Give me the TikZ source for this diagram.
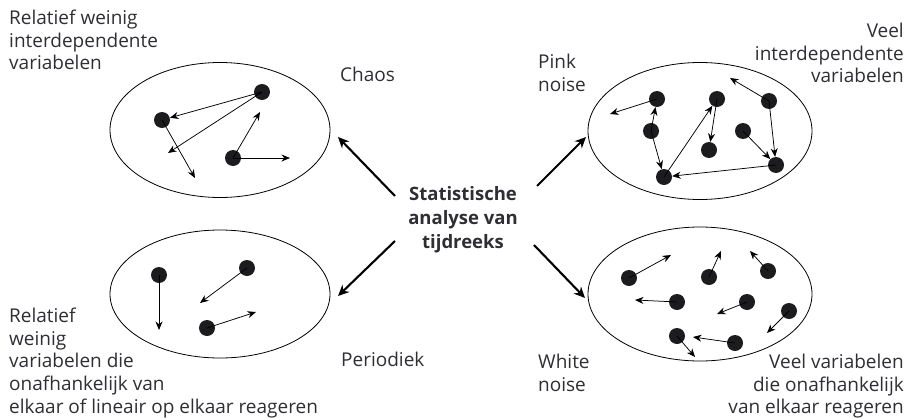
\documentclass[tikz,border=0pt]{standalone}
\usepackage{fontspec}
\setmainfont{Open Sans}
\usetikzlibrary{arrows.meta, shapes.geometric}

\definecolor{txtgray}{HTML}{2E2E33}
\definecolor{dotblack}{HTML}{1C1C1F}

\tikzset{
  dot/.style={circle, fill=dotblack, inner sep=0pt, minimum size=16},
  move/.style={-{Stealth[length=8.5pt, width=7pt]}, line width=0.75pt},
  bigmove/.style={-{Stealth[length=11pt, width=10pt]}, line width=2.1pt},
  field/.style={ellipse, draw, line width=0.8pt, inner sep=0pt},
  lbl/.style={text=txtgray, font=\fontsize{19}{22.6}\selectfont, inner sep=0pt},
}

\begin{document}
\begin{tikzpicture}[x=1pt, y=-1pt]

\useasboundingbox (0,0) rectangle (914,418);

% vier velden
\node[field, minimum width=220, minimum height=135] (chaos) at (220,130) {};
\node[field, minimum width=220, minimum height=128] (period) at (220,294) {};
\node[field, minimum width=224, minimum height=137] (pink) at (700,131) {};
\node[field, minimum width=224, minimum height=134] (white) at (700,294) {};

% midden
\node[text=txtgray, font=\fontsize{18.5}{24}\selectfont\bfseries, align=center,
      inner sep=0pt, anchor=north] (ana) at (463,186)
  {Statistische\\analyse van\\tijdreeks};

\coordinate (tlS) at (395,196);
\coordinate (tlE) at (338,137);
\coordinate (blS) at (395,241);
\coordinate (blE) at (338,296);
\coordinate (trS) at (537,186);
\coordinate (trE) at (586,137);
\coordinate (brS) at (534,245);
\coordinate (brE) at (585,298);
\draw[bigmove] (tlS) -- (tlE);
\draw[bigmove] (blS) -- (blE);
\draw[bigmove] (trS) -- (trE);
\draw[bigmove] (brS) -- (brE);

% chaos
\node[dot] (c1) at (262,92) {};
\node[dot] (c2) at (162,120) {};
\node[dot] (c3) at (233,158) {};
\coordinate (c1b) at (168,153);
\coordinate (c2a) at (195,178);
\coordinate (c3a) at (260,112);
\coordinate (c3b) at (290,158);
\draw[move] (c1.center) -- (c2);
\draw[move] (c1.center) -- (c1b);
\draw[move] (c2.center) -- (c2a);
\draw[move] (c3.center) -- (c3a);
\draw[move] (c3.center) -- (c3b);

% periodiek
\node[dot] (p1) at (159,275) {};
\node[dot] (p2) at (247,268) {};
\node[dot] (p3) at (207,328) {};
\coordinate (p1a) at (159,330);
\coordinate (p2a) at (200,303);
\coordinate (p3a) at (256,312);
\draw[move] (p1.center) -- (p1a);
\draw[move] (p2.center) -- (p2a);
\draw[move] (p3.center) -- (p3a);

% pink noise
\node[dot] (k1) at (657,99) {};
\node[dot] (k2) at (651,131) {};
\node[dot] (k3) at (717,99) {};
\node[dot] (k4) at (769,101) {};
\node[dot] (k5) at (743,131) {};
\node[dot] (k6) at (709,150) {};
\node[dot] (k7) at (776,165) {};
\node[dot] (k8) at (664,177) {};
\coordinate (k1a) at (610,114);
\coordinate (k4a) at (730,78);
\draw[move] (k1.center) -- (k1a);
\draw[move] (k2.center) -- (k1);
\draw[move] (k2.center) -- (k8);
\draw[move] (k8.center) -- (k3);
\draw[move] (k3.center) -- (k6);
\draw[move] (k4.center) -- (k4a);
\draw[move] (k4.center) -- (k7);
\draw[move] (k5.center) -- (k7);
\draw[move] (k7.center) -- (k8);

% white noise
\node[dot] (w1) at (629,278) {};
\node[dot] (w2) at (709,277) {};
\node[dot] (w3) at (768,271) {};
\node[dot] (w4) at (677,302) {};
\node[dot] (w5) at (747,302) {};
\node[dot] (w6) at (789,311) {};
\node[dot] (w7) at (677,336) {};
\node[dot] (w8) at (735,343) {};
\coordinate (w1a) at (671,255);
\coordinate (w2a) at (721,251);
\coordinate (w3a) at (750,251);
\coordinate (w4a) at (635,300);
\coordinate (w5a) at (717,314);
\coordinate (w6a) at (767,333);
\coordinate (w7a) at (695,357);
\coordinate (w8a) at (693,337);
\draw[move] (w1.center) -- (w1a);
\draw[move] (w2.center) -- (w2a);
\draw[move] (w3.center) -- (w3a);
\draw[move] (w4.center) -- (w4a);
\draw[move] (w5.center) -- (w5a);
\draw[move] (w6.center) -- (w6a);
\draw[move] (w7.center) -- (w7a);
\draw[move] (w8.center) -- (w8a);

% teksten
\node[lbl, anchor=north west, align=left] (tlLbl) at (9,10)
  {Relatief weinig\\interdependente\\variabelen};
\node[lbl, anchor=north west, align=left] (blLbl) at (9,308)
  {Relatief\\weinig\\variabelen die\\onafhankelijk van\\elkaar of lineair op elkaar reageren};
\node[lbl, anchor=north east, align=right] (trLbl) at (904,23)
  {Veel\\interdependente\\variabelen};
\node[lbl, anchor=north east, align=right] (brLbl) at (904,354)
  {Veel variabelen\\die onafhankelijk\\van elkaar reageren};
\node[lbl, anchor=north west, align=left] (pinkLbl) at (538,54) {Pink\\noise};
\node[lbl, anchor=north west, align=left] (whiteLbl) at (538,354) {White\\noise};
\node[lbl, anchor=base west] (chaosLbl) at (340,81) {Chaos};
\node[lbl, anchor=base west] (periodLbl) at (341,366) {Periodiek};

\end{tikzpicture}
\end{document}
